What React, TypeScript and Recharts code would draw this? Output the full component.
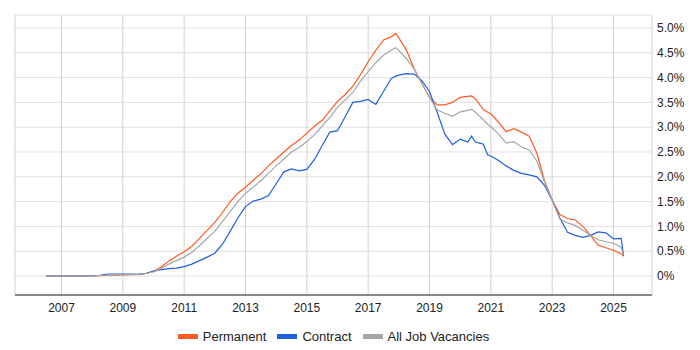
import { LineChart, Line, XAxis, YAxis, CartesianGrid } from 'recharts';

const years = [
  2006.5, 2006.75, 2007, 2007.25, 2007.5, 2007.75, 2008, 2008.25, 2008.5, 2008.75,
  2009, 2009.25, 2009.5, 2009.75, 2010, 2010.25, 2010.5, 2010.75, 2011, 2011.25,
  2011.5, 2011.75, 2012, 2012.25, 2012.5, 2012.75, 2013, 2013.25, 2013.5, 2013.75,
  2014, 2014.25, 2014.5, 2014.75, 2015, 2015.25, 2015.5, 2015.75, 2016, 2016.25,
  2016.5, 2016.75, 2017, 2017.25, 2017.5, 2017.75, 2017.9, 2018, 2018.25, 2018.5,
  2018.75, 2019, 2019.25, 2019.5, 2019.75, 2020, 2020.25, 2020.37, 2020.5, 2020.75,
  2020.9, 2021, 2021.25, 2021.5, 2021.75, 2022, 2022.25, 2022.5, 2022.75, 2023,
  2023.25, 2023.5, 2023.75, 2024, 2024.25, 2024.5, 2024.75, 2025, 2025.25, 2025.33,
];

const permanent = [
  0, 0, 0, 0, 0, 0, 0, 0.005, 0.01, 0.015,
  0.02, 0.025, 0.03, 0.05, 0.09, 0.18, 0.3, 0.4, 0.49, 0.6,
  0.76, 0.92, 1.08, 1.28, 1.5, 1.67, 1.79, 1.93, 2.06, 2.22,
  2.36, 2.5, 2.63, 2.74, 2.88, 3.02, 3.14, 3.33, 3.52, 3.66,
  3.83, 4.06, 4.32, 4.55, 4.76, 4.82, 4.89, 4.8, 4.55, 4.18,
  3.88, 3.6, 3.45, 3.45, 3.5, 3.6, 3.62, 3.63, 3.57, 3.36,
  3.3, 3.27, 3.1, 2.91, 2.97, 2.9, 2.82, 2.48, 1.92, 1.53,
  1.24, 1.16, 1.13, 1.0, 0.82, 0.62, 0.57, 0.52, 0.45, 0.4,
];

const contract = [
  0, 0, 0, 0, 0, 0, 0.005, 0.015, 0.04, 0.04,
  0.04, 0.04, 0.035, 0.05, 0.1, 0.13, 0.15, 0.16, 0.19, 0.24,
  0.31, 0.38, 0.46, 0.64, 0.9, 1.17, 1.4, 1.51, 1.55, 1.62,
  1.86, 2.1, 2.16, 2.12, 2.15, 2.35, 2.63, 2.9, 2.93, 3.21,
  3.5, 3.52, 3.56, 3.46, 3.72, 3.98, 4.03, 4.05, 4.08, 4.07,
  3.94, 3.72, 3.3, 2.86, 2.65, 2.76, 2.7, 2.82, 2.7, 2.66,
  2.44, 2.42, 2.33, 2.22, 2.13, 2.07, 2.04, 2.0, 1.83, 1.53,
  1.17, 0.88, 0.82, 0.78, 0.82, 0.89, 0.87, 0.75, 0.76, 0.4,
];

const allJobs = [
  0, 0, 0, 0, 0, 0, 0, 0.01, 0.015, 0.02,
  0.025, 0.03, 0.035, 0.05, 0.08, 0.15, 0.24, 0.31, 0.38, 0.48,
  0.61, 0.76, 0.9, 1.1, 1.3, 1.5, 1.67, 1.79, 1.92, 2.07,
  2.22, 2.36, 2.5, 2.59, 2.71, 2.85, 3.02, 3.2, 3.4, 3.55,
  3.7, 3.93, 4.12, 4.3, 4.45, 4.55, 4.6, 4.55, 4.38, 4.17,
  3.88, 3.6, 3.35, 3.28, 3.22, 3.31, 3.34, 3.36, 3.3, 3.15,
  3.06, 3.01, 2.86, 2.68, 2.71, 2.6, 2.54, 2.32, 1.9, 1.53,
  1.15, 1.07, 1.02, 0.92, 0.82, 0.73, 0.69, 0.66, 0.58, 0.42,
];

const yearTicks = [2007, 2009, 2011, 2013, 2015, 2017, 2019, 2021, 2023, 2025];
const pctTicks = [0, 0.5, 1, 1.5, 2, 2.5, 3, 3.5, 4, 4.5, 5];

const seriesInfo = [
  { key: 'permanent', name: 'Permanent', color: '#ff5a1f' },
  { key: 'contract', name: 'Contract', color: '#1f5fe0' },
  { key: 'all', name: 'All Job Vacancies', color: '#a6a6a6' },
];

const data = years.map((year, i) => ({
  year,
  permanent: permanent[i],
  contract: contract[i],
  all: allJobs[i],
}));

const font = 'Arial, "Liberation Sans", sans-serif';

const fmtPct = (v: number) => (v === 0 ? '0%' : `${v.toFixed(1)}%`);

export default function App() {
  return (
    <div style={{ position: 'absolute', left: 0, top: 0, width: 700, height: 350, fontFamily: font }}>
      <LineChart width={700} height={350} data={data} margin={{ top: 15, right: 0, left: 15, bottom: 0 }}>
        <CartesianGrid horizontal vertical={false} stroke="#e0e0e0" />
        <CartesianGrid horizontal={false} vertical stroke="#d2d2d2" />
        <XAxis
          dataKey="year"
          type="number"
          domain={[2005.484, 2026.255]}
          ticks={yearTicks}
          allowDataOverflow
          height={55}
          tickSize={0}
          tickMargin={8}
          axisLine={{ stroke: '#222' }}
          tickLine={false}
          tick={{ fill: '#222', fontSize: 12, fontFamily: font }}
        />
        <YAxis
          orientation="right"
          type="number"
          domain={[-0.383, 5.262]}
          ticks={pctTicks}
          allowDataOverflow
          width={48}
          tickSize={0}
          tickMargin={5}
          axisLine={false}
          tickLine={false}
          tickFormatter={fmtPct}
          tick={{ fill: '#222', fontSize: 12, fontFamily: font }}
        />
        {seriesInfo.map((s) => (
          <Line
            key={s.key}
            type="linear"
            dataKey={s.key}
            name={s.name}
            stroke={s.color}
            strokeWidth={1.2}
            dot={false}
            isAnimationActive={false}
          />
        ))}
      </LineChart>
      <div
        style={{
          position: 'absolute',
          left: 15,
          top: 326,
          width: 637,
          height: 20,
          display: 'flex',
          justifyContent: 'center',
          alignItems: 'center',
          fontSize: 13,
          color: '#222',
        }}
      >
        {seriesInfo.map((s, i) => (
          <div key={s.key} style={{ display: 'flex', alignItems: 'center', marginLeft: i === 0 ? 0 : 11 }}>
            <span style={{ display: 'inline-block', width: 20, height: 5, background: s.color, marginRight: 5 }} />
            <span>{s.name}</span>
          </div>
        ))}
      </div>
    </div>
  );
}
